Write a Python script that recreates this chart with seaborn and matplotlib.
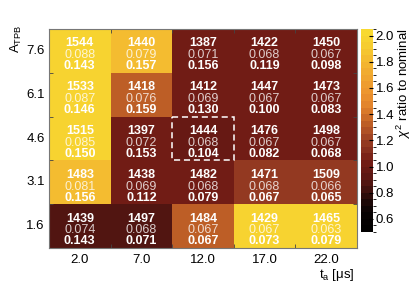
import numpy as np
import pandas as pd
import matplotlib
matplotlib.use("Agg")
import matplotlib.pyplot as plt
import seaborn as sns
from matplotlib.colors import LinearSegmentedColormap, ListedColormap, BoundaryNorm
from matplotlib.patches import Rectangle

# axis categories
t_a = ["2.0", "7.0", "12.0", "17.0", "22.0"]
a_tpb = ["7.6", "6.1", "4.6", "3.1", "1.6"]

# chi2 ratio to nominal
ratio = [
    [2.00, 1.85, 1.05, 1.05, 1.05],
    [2.00, 1.35, 1.05, 1.05, 1.05],
    [2.00, 1.05, 1.00, 1.05, 1.05],
    [1.85, 1.05, 1.05, 1.20, 1.20],
    [0.88, 0.88, 1.35, 2.00, 2.00],
]
chi2 = [
    [1544, 1440, 1387, 1422, 1450],
    [1533, 1418, 1412, 1447, 1473],
    [1515, 1397, 1444, 1476, 1498],
    [1483, 1438, 1482, 1471, 1509],
    [1439, 1497, 1484, 1429, 1465],
]
val_a = [
    [0.088, 0.079, 0.071, 0.068, 0.067],
    [0.087, 0.076, 0.069, 0.067, 0.067],
    [0.085, 0.072, 0.068, 0.067, 0.067],
    [0.081, 0.069, 0.068, 0.068, 0.066],
    [0.074, 0.068, 0.067, 0.067, 0.063],
]
val_b = [
    [0.143, 0.157, 0.156, 0.119, 0.098],
    [0.146, 0.159, 0.130, 0.100, 0.083],
    [0.150, 0.153, 0.104, 0.082, 0.068],
    [0.156, 0.112, 0.079, 0.067, 0.065],
    [0.143, 0.071, 0.067, 0.073, 0.079],
]
nominal = (2, 2)  # row, col of the dashed box

df = pd.DataFrame(ratio, index=a_tpb, columns=t_a)

# palette anchors, in ratio units
vmin, vmax = 0.5, 2.05
anchors = [
    (0.50, "#000000"), (0.65, "#0a0404"), (0.75, "#220a08"),
    (0.85, "#4c1410"), (0.95, "#621814"), (1.05, "#761e16"),
    (1.15, "#8c3420"), (1.25, "#a84a24"), (1.35, "#c46426"),
    (1.45, "#e0802c"), (1.55, "#ec922e"), (1.65, "#efa030"),
    (1.75, "#f2b030"), (1.85, "#f4c030"), (1.95, "#f6d030"),
    (2.05, "#f8dc30"),
]
base = LinearSegmentedColormap.from_list(
    "root", [((v - vmin) / (vmax - vmin), c) for v, c in anchors])
bounds = np.arange(vmin, vmax + 0.001, 0.05)
centers = (bounds[:-1] + bounds[1:]) / 2
cmap = ListedColormap(base((centers - vmin) / (vmax - vmin)))
norm = BoundaryNorm(bounds, cmap.N)

plt.rcParams["font.family"] = ["Liberation Sans", "DejaVu Sans"]
plt.rcParams["mathtext.fontset"] = "custom"
plt.rcParams["mathtext.rm"] = "Liberation Sans"
plt.rcParams["mathtext.it"] = "Liberation Sans:italic"

fig = plt.figure(figsize=(4.15, 2.83), dpi=100)
W, H = 415, 283
ax = fig.add_axes([49 / W, 1 - 248 / H, 308 / W, 219 / H])
cax = fig.add_axes([361 / W, 1 - 232 / H, 12 / W, 203 / H])

sns.heatmap(df, ax=ax, cmap=cmap, norm=norm, cbar_ax=cax, linewidths=0,
            cbar_kws={"ticks": [0.6, 0.8, 1.0, 1.2, 1.4, 1.6, 1.8, 2.0]})

for i in range(len(a_tpb)):
    for j in range(len(t_a)):
        ax.text(j + 0.5, i + 0.33, str(chi2[i][j]), ha="center", va="center",
                color="white", fontsize=9, fontweight="bold")
        ax.text(j + 0.5, i + 0.6, f"{val_a[i][j]:.3f}", ha="center", va="center",
                color="white", alpha=0.78, fontsize=9)
        ax.text(j + 0.5, i + 0.85, f"{val_b[i][j]:.3f}", ha="center", va="center",
                color="white", fontsize=9, fontweight="bold")

r, c = nominal
ax.add_patch(Rectangle((c, r), 1, 1, fill=False, edgecolor="white",
                       linestyle=(0, (4, 2.5)), linewidth=1.1))

ax.set_xlabel("")
ax.set_ylabel("")
# tick marks sit on the cell boundaries, labels on the cell centres
ax.set_xticks(np.arange(len(t_a) + 1), minor=True)
ax.set_yticks(np.arange(len(a_tpb) + 1), minor=True)
ax.tick_params(axis="both", which="major", labelsize=9.5, length=0)
ax.tick_params(axis="x", which="major", pad=4)
ax.tick_params(axis="y", which="major", pad=3)
ax.tick_params(which="minor", length=3, direction="in", color="#444444",
               top=True, right=True, bottom=True, left=True)
plt.setp(ax.get_yticklabels(), rotation=0)
plt.setp(ax.get_xticklabels(), rotation=0)
for s in ax.spines.values():
    s.set_visible(True)
    s.set_color("#777777")
    s.set_linewidth(0.8)

fig.text(355 / W, 1 - 275 / H, r"t$_{\mathrm{a}}$ [$\mathrm{\mu}$s]", ha="right",
         va="center", fontsize=9.5)
fig.text(16 / W, 1 - 25 / H, r"A$_{\mathrm{TPB}}$", ha="center", va="top",
         rotation=90, fontsize=9.5)

cax.tick_params(labelsize=9.5, length=3, direction="in", pad=2)
cax.yaxis.set_ticks_position("right")
cax.set_ylim(vmin, vmax)
for s in cax.spines.values():
    s.set_visible(False)
fig.text(404 / W, 1 - 28 / H, r"$\chi^2$ ratio to nominal", ha="center", va="top",
         rotation=90, fontsize=9.5)

fig.savefig("out.png", dpi=100)
